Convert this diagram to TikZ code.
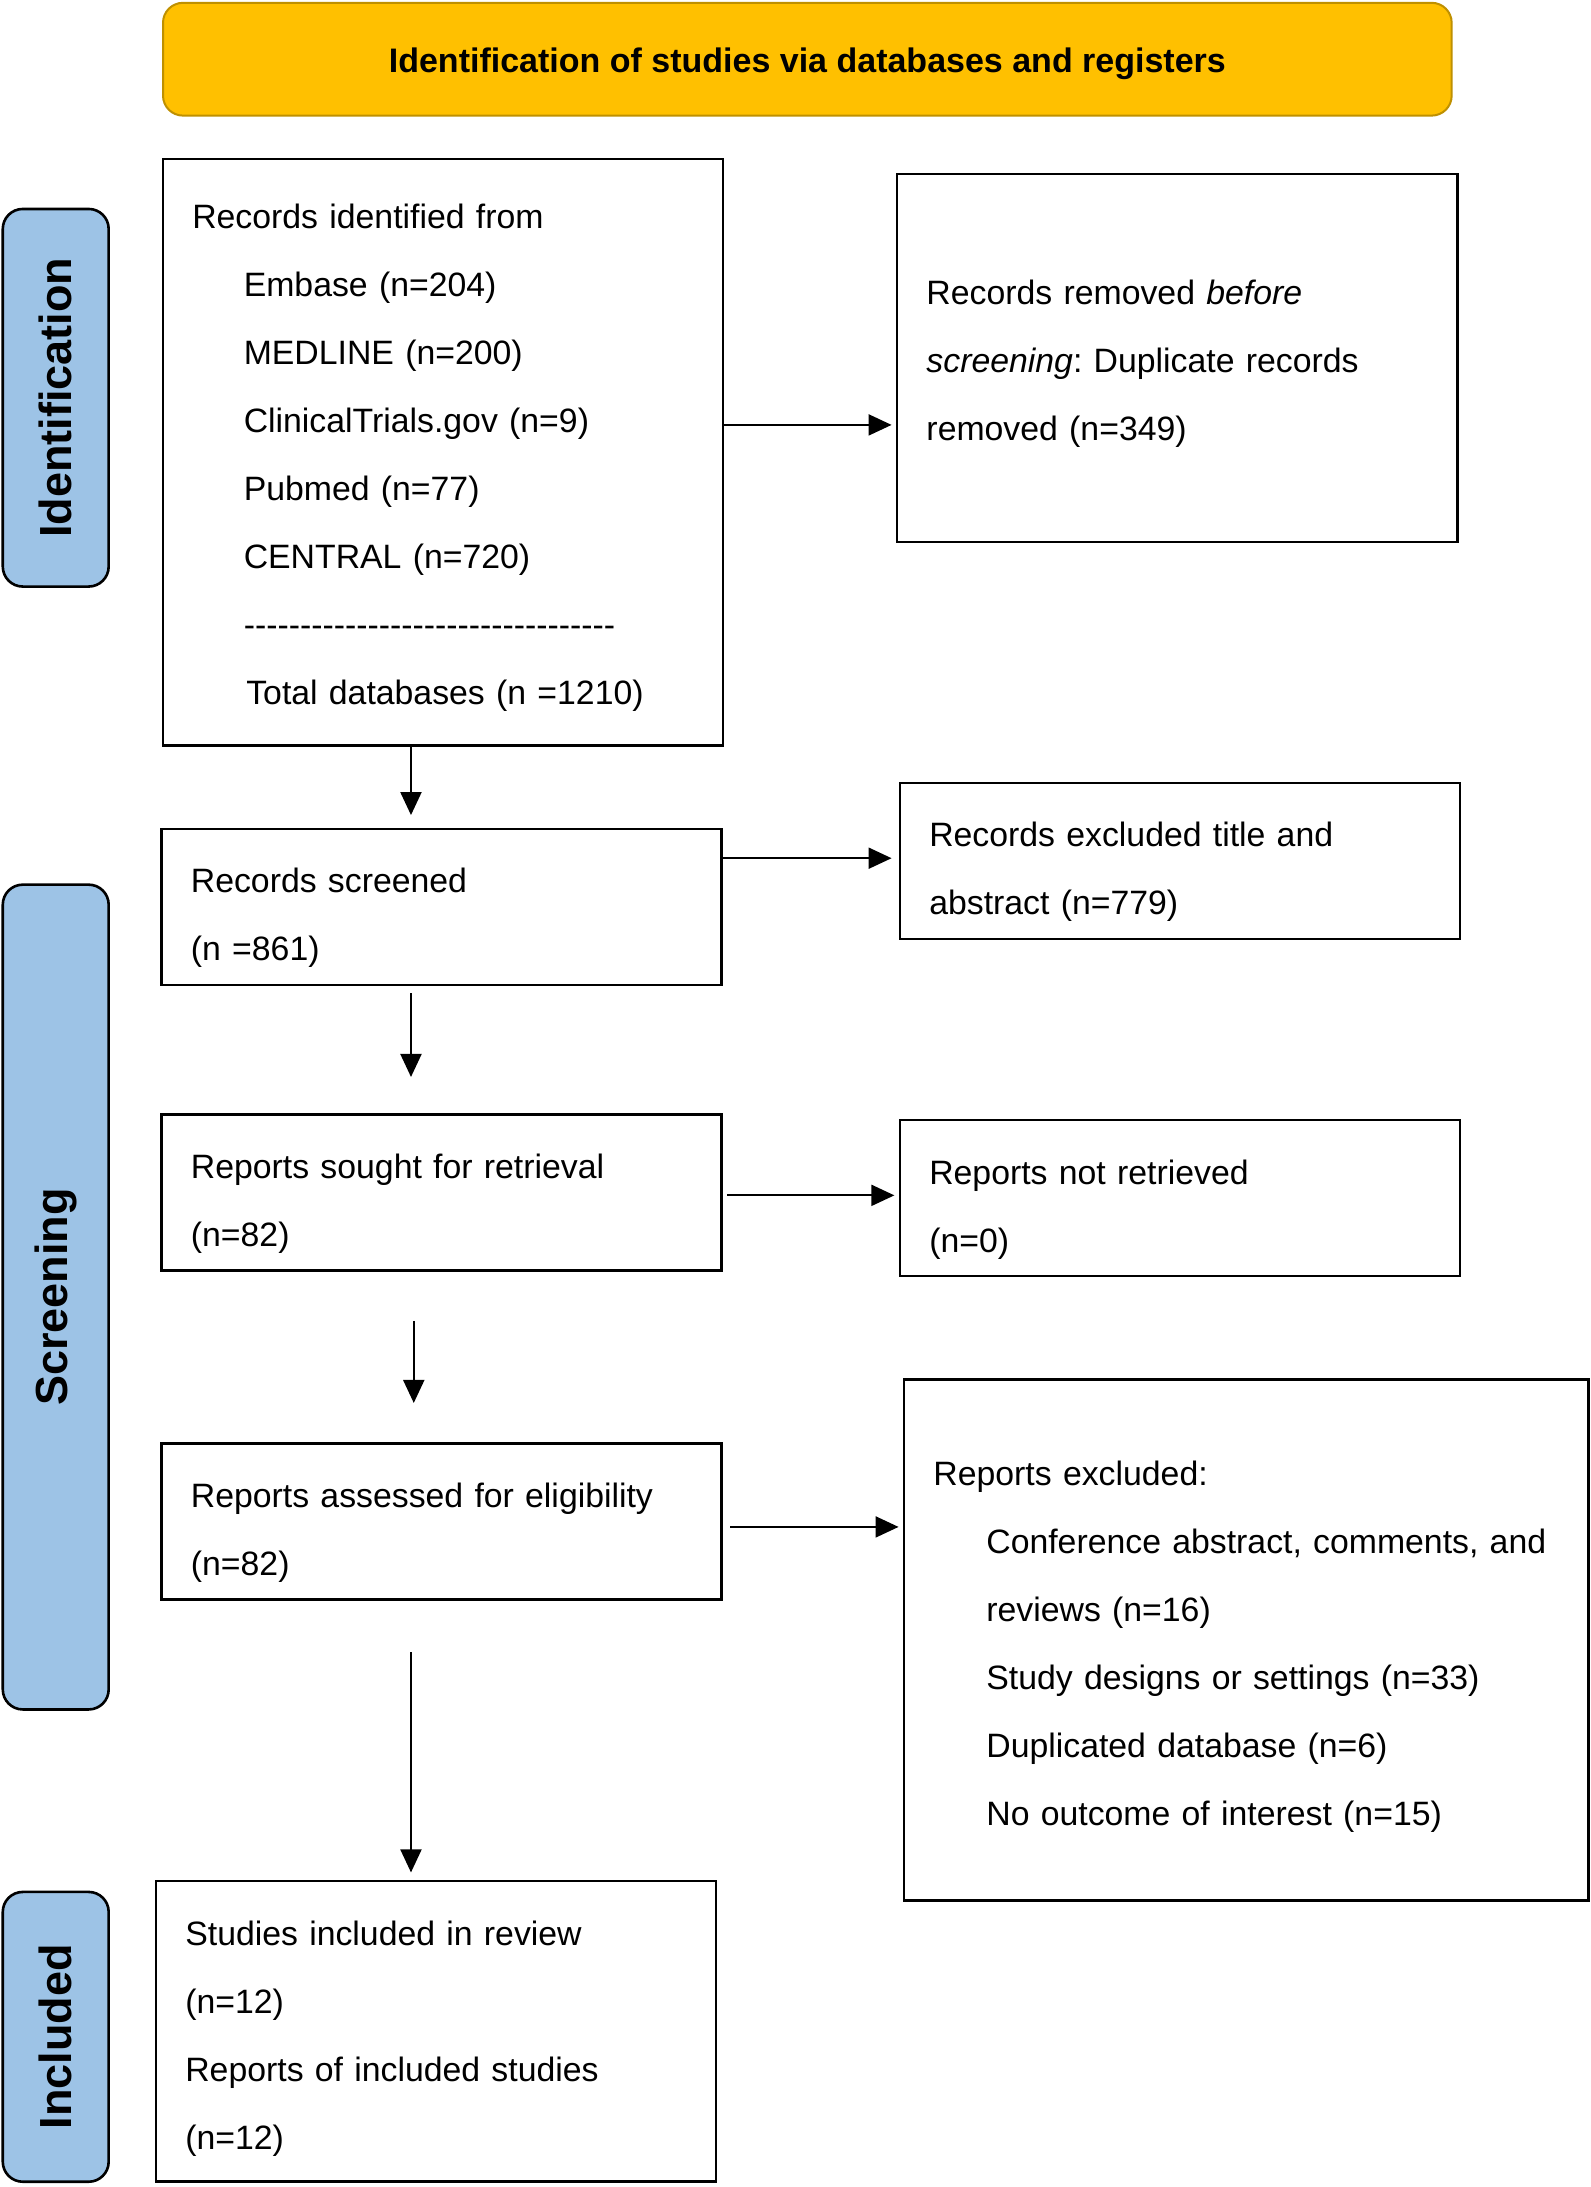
\documentclass[tikz,border=0pt]{standalone}
\usepackage{fontspec}
\newfontfamily\arial{Liberation Sans}
\usetikzlibrary{arrows.meta}
\definecolor{ttl}{HTML}{FFC000}
\definecolor{ttlb}{HTML}{BF9000}
\definecolor{side}{HTML}{9DC3E6}
\frenchspacing
\begin{document}
\begin{tikzpicture}[x=1.3932pt,y=-1.3932pt,
  box/.style={draw=black, line width=2.6pt, rectangle, outer sep=0pt, inner xsep=29.3pt,
    text width=501.5pt, align=left, font=\arial\fontsize{33.8}{68}\selectfont\frenchspacing, minimum width=560.1pt},
  down/.style={execute at begin node={\rule{0pt}{#1}}},
  sidebox/.style={draw=black, line width=2.6pt, fill=side, rounded corners=20pt, rotate=90,
    minimum height=105.9pt, font=\arial\bfseries\fontsize{45}{54}\selectfont, outer sep=0pt},
  arr/.style={line width=2pt, -{Triangle[length=23pt,width=21pt]}}]
\useasboundingbox (0,0) rectangle (1142,1569.8);

\node[draw=ttlb, fill=ttl, line width=2pt, rounded corners=20pt, minimum width=1288.7pt,
  minimum height=112.8pt, down=33.2pt,
  font=\arial\bfseries\fontsize{34}{40}\selectfont] (title) at (579.5,42.5)
  {Identification of studies via databases and registers};

\node[sidebox, minimum width=377.6pt] (s1) at (40,285.5) {Identification};
\node[sidebox, minimum width=824.8pt] (s2) at (40,931) {Screening};
\node[sidebox, minimum width=289.8pt] (s3) at (40,1462) {Included};

\node[box, down=35.8pt, minimum height=586.5pt] (A) at (318,324.5) {Records identified from\\
\hspace*{51.5pt}Embase (n=204)\\
\hspace*{51.5pt}MEDLINE (n=200)\\
\hspace*{51.5pt}ClinicalTrials.gov (n=9)\\
\hspace*{51.5pt}Pubmed (n=77)\\
\hspace*{51.5pt}CENTRAL (n=720)\\
\hspace*{51.5pt}---------------------------------\\
\hspace*{54pt}Total databases (n =1210)};

\node[box, down=35.8pt, minimum height=367.8pt] (B) at (845,257) {Records removed \textit{before}\\
\textit{screening}: Duplicate records\\
removed (n=349)};

\node[box, down=47pt, minimum height=156pt] (C) at (317,651) {Records screened\\(n =861)};
\node[box, down=47pt, minimum height=156pt] (D) at (847,618) {Records excluded title and\\abstract (n=779)};
\node[box, down=47pt, minimum height=156pt] (E) at (317,856) {Reports sought for retrieval\\(n=82)};
\node[box, down=47pt, minimum height=156pt] (F) at (847,860) {Reports not retrieved\\(n=0)};
\node[box, down=47pt, minimum height=156pt] (G) at (317,1092) {Reports assessed for eligibility\\(n=82)};

\node[box, down=38.6pt, minimum width=684.1pt, text width=625.5pt, minimum height=521.1pt] (H) at (894.5,1177) {Reports excluded:\\
\hspace*{52.9pt}Conference abstract, comments, and\\
\hspace*{52.9pt}reviews (n=16)\\
\hspace*{52.9pt}Study designs or settings (n=33)\\
\hspace*{52.9pt}Duplicated database (n=6)\\
\hspace*{52.9pt}No outcome of interest (n=15)};

\node[box, down=38.6pt, minimum height=300.9pt] (I) at (313,1458) {Studies included in review\\
(n=12)\\
Reports of included studies\\
(n=12)};

\draw[arr, shorten >=5.6pt] (A.east |- 0,305) -- (B.west |- 0,305);
\draw[arr, shorten >=13.9pt] (A.south -| 295,0) -- (C.north -| 295,0);
\draw[arr, shorten >=8.4pt] (C.east |- 0,616) -- (D.west |- 0,616);
\draw[arr, shorten <=8.4pt, shorten >=37.6pt] (C.south -| 295,0) -- (E.north -| 295,0);
\draw[arr, shorten <=5.6pt, shorten >=5.6pt] (E.east |- 0,858) -- (F.west |- 0,858);
\draw[arr, shorten <=50.2pt, shorten >=40.4pt] (E.south -| 297,0) -- (G.north -| 297,0);
\draw[arr, shorten <=8.4pt, shorten >=5.6pt] (G.east |- 0,1096) -- (H.west |- 0,1096);
\draw[arr, shorten <=52.9pt, shorten >=8.4pt] (G.south -| 295,0) -- (I.north -| 295,0);
\end{tikzpicture}
\end{document}
